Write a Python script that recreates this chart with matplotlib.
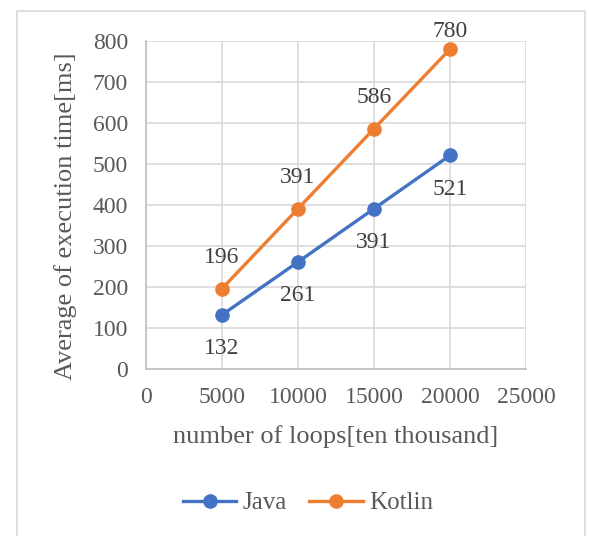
import matplotlib
matplotlib.use("Agg")
import matplotlib.pyplot as plt
from matplotlib.patches import Rectangle

plt.rcParams["font.family"] = ["Liberation Serif", "DejaVu Serif"]

loops = [5000, 10000, 15000, 20000]
java_ms = [132, 261, 391, 521]
kotlin_ms = [196, 391, 586, 780]
x_ticks = [0, 5000, 10000, 15000, 20000, 25000]
y_ticks = [0, 100, 200, 300, 400, 500, 600, 700, 800]

BLUE = "#4472C4"
ORANGE = "#ED7D31"
TEXT = "#595959"
LABEL = "#404040"

fig = plt.figure(figsize=(5.89, 5.36), dpi=100)
ax = fig.add_axes([146 / 589, 1 - 369 / 536, 380 / 589, 328 / 536])

# chart area border
fig.patches.append(Rectangle((17 / 589, -0.05), 568 / 589, 1.05 - 11 / 536,
                             transform=fig.transFigure, fill=False,
                             edgecolor="#D9D9D9", linewidth=1.2))

ax.plot(loops, java_ms, color=BLUE, linewidth=2.4, marker="o",
        markersize=9.5, label="Java", zorder=3)
ax.plot(loops, kotlin_ms, color=ORANGE, linewidth=2.4, marker="o",
        markersize=9.5, label="Kotlin", zorder=3)

for x, y in zip(loops, java_ms):
    ax.annotate(str(y), (x, y), xytext=(0, -34), textcoords="offset pixels",
                ha="center", va="center", fontsize=17, color=LABEL)
for i, (x, y) in enumerate(zip(loops, kotlin_ms)):
    dy = 18 if i == len(loops) - 1 else 31
    ax.annotate(str(y), (x, y), xytext=(0, dy), textcoords="offset pixels",
                ha="center", va="center", fontsize=17, color=LABEL,
                annotation_clip=False)

ax.set_xlim(0, 25000)
ax.set_ylim(0, 800)
ax.set_xticks(x_ticks)
ax.set_yticks(y_ticks)
ax.tick_params(length=0, labelsize=17, labelcolor=TEXT, pad=13)
ax.grid(True, color="#D9D9D9", linewidth=1.2)
ax.set_axisbelow(True)
for side in ["top", "right"]:
    ax.spines[side].set_visible(False)
for side in ["left", "bottom"]:
    ax.spines[side].set_color("#BFBFBF")
    ax.spines[side].set_linewidth(1.2)

ax.set_xlabel("number of loops[ten thousand]", fontsize=19, color=TEXT,
              labelpad=12)
ax.set_ylabel("Average of execution time[ms]", fontsize=19, color=TEXT,
              labelpad=11)
ax.yaxis.label.set_y(0.466)

fig.legend(loc="center", bbox_to_anchor=(308 / 589, 1 - 503 / 536), ncol=2,
           frameon=False, fontsize=18, labelcolor=TEXT, handlelength=2.15,
           handletextpad=0.25, columnspacing=0.9)

fig.savefig("out.png", dpi=100)
